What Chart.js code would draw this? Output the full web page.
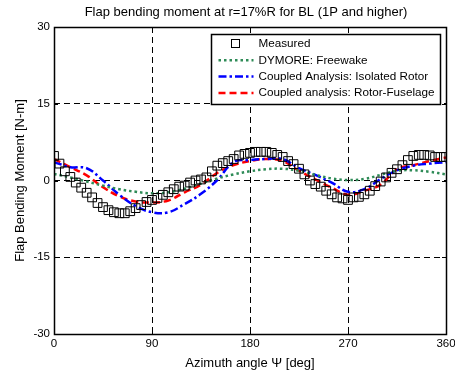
<!DOCTYPE html>
<html>
<head>
<meta charset="utf-8">
<script src="https://cdn.jsdelivr.net/npm/chart.js@4"></script>
<style>
  html, body { margin: 0; padding: 0; background: #fff; }
</style>
</head>
<body>
<canvas id="flapChart" width="455" height="374"></canvas>
<script>
// azimuth angles [deg]
const measuredAngles = [0, 5, 10, 15, 20, 25, 30, 35, 40, 45, 50, 55, 60, 65, 70, 75, 80, 85, 90,
  95, 100, 105, 110, 115, 120, 125, 130, 135, 140, 145, 150, 155, 160, 165, 170, 175, 180,
  185, 190, 195, 200, 205, 210, 215, 220, 225, 230, 235, 240, 245, 250, 255, 260, 265, 270,
  275, 280, 285, 290, 295, 300, 305, 310, 315, 320, 325, 330, 335, 340, 345, 350, 355, 360];
const measured = [4.8, 3.3, 1.8, 0.7, -0.4, -1.4, -2.4, -3.3, -4.4, -5.2, -5.8, -6.2, -6.4, -6.4, -6.0, -5.4, -4.8, -4.2, -3.8,
  -3.4, -2.8, -2.3, -1.7, -1.2, -1.0, -0.4, 0.0, 0.2, 0.6, 1.8, 2.9, 3.4, 3.8, 4.2, 4.9, 5.2, 5.4,
  5.6, 5.6, 5.6, 5.4, 5.0, 4.6, 3.8, 3.2, 2.3, 1.2, 0.0, -0.7, -1.2, -2.0, -2.7, -3.3, -3.5, -3.8,
  -3.3, -3.2, -2.7, -2.0, -1.1, -0.2, 0.6, 1.5, 2.2, 3.0, 4.0, 4.8, 5.0, 5.0, 4.9, 4.6, 4.6, 4.6];

const curveAngles = [0, 15, 30, 45, 60, 75, 90, 105, 120, 135, 150, 165, 180,
  195, 210, 225, 240, 255, 270, 285, 300, 315, 330, 345, 360];
const dymoreFreewake = [1.3, 0.6, -0.2, -1.0, -1.7, -2.2, -2.5, -2.3, -1.6, -0.6, 0.4, 1.2, 1.8,
  2.2, 2.3, 1.9, 1.1, 0.4, 0.1, 0.3, 1.1, 1.9, 2.0, 1.7, 1.2];
const isolatedRotor = [3.6, 2.6, 2.4, 0.0, -2.8, -5.0, -6.2, -6.2, -4.6, -2.6, 0.1, 3.6, 4.0,
  4.2, 4.2, 2.4, 1.1, -0.4, -2.2, -1.7, 0.3, 2.0, 2.9, 3.3, 3.6];
const rotorFuselage = [4.2, 2.6, 1.0, -1.3, -3.1, -4.1, -4.3, -3.9, -2.3, -0.8, 1.5, 3.0, 3.8,
  4.2, 3.8, 1.9, 0.2, -1.4, -2.8, -2.0, -0.8, 2.2, 3.0, 3.8, 4.5];

const xTicks = [0, 90, 180, 270, 360];
const yTicks = [-30, -15, 0, 15, 30];

const chartTitle = 'Flap bending moment at r=17%R for BL (1P and higher)';
const FONT = 'Liberation Sans, Arial, sans-serif';

function pairs(xs, ys) {
  return xs.map((x, i) => ({ x: x, y: ys[i] }));
}

// title over the axes, axes box, inward ticks and the boxed legend (MATLAB style)
const matlabFrame = {
  id: 'matlabFrame',
  afterDatasetsDraw(chart) {
    const ctx = chart.ctx;
    const a = chart.chartArea;
    const xs = chart.scales.x, ys = chart.scales.y;
    ctx.save();
    ctx.setLineDash([]);
    ctx.strokeStyle = '#000';
    ctx.lineWidth = 1;
    ctx.beginPath();
    xTicks.forEach(v => {
      const px = Math.round(xs.getPixelForValue(v)) + 0.5;
      ctx.moveTo(px, a.top); ctx.lineTo(px, a.top + 4);
      ctx.moveTo(px, a.bottom); ctx.lineTo(px, a.bottom - 4);
    });
    yTicks.forEach(v => {
      const py = Math.round(ys.getPixelForValue(v)) + 0.5;
      ctx.moveTo(a.left, py); ctx.lineTo(a.left + 4, py);
      ctx.moveTo(a.right, py); ctx.lineTo(a.right - 4, py);
    });
    ctx.stroke();
    ctx.lineWidth = 1.5;
    ctx.strokeRect(Math.round(a.left) + 0.5, Math.round(a.top) + 0.5,
      Math.round(a.right - a.left), Math.round(a.bottom - a.top));

    // title, centred on the axes
    ctx.fillStyle = '#000';
    ctx.font = '13px ' + FONT;
    ctx.textAlign = 'center';
    ctx.textBaseline = 'middle';
    ctx.fillText(chartTitle, (a.left + a.right) / 2 - 4, a.top - 15);

    // legend
    const bx = Math.round(a.right) - 235 + 0.5, by = Math.round(a.top) + 7 + 0.5;
    const bw = 229, bh = 70;
    ctx.fillStyle = '#fff';
    ctx.fillRect(bx, by, bw, bh);
    ctx.lineWidth = 1.5;
    ctx.strokeRect(bx, by, bw, bh);
    ctx.font = '11.7px ' + FONT;
    ctx.textBaseline = 'middle';
    ctx.textAlign = 'left';
    chart.data.datasets.forEach((ds, i) => {
      const cy = by + 9.5 + i * 16.3;
      const x0 = bx + 7, x1 = bx + 42;
      ctx.save();
      if (ds.showLine === false) {
        ctx.lineWidth = 1;
        ctx.strokeStyle = ds.pointBorderColor;
        ctx.strokeRect(Math.round((x0 + x1) / 2) - 4.5, Math.round(cy) - 4.5, 8, 8);
      } else {
        ctx.strokeStyle = ds.borderColor;
        ctx.lineWidth = ds.borderWidth;
        ctx.setLineDash(ds.borderDash || []);
        ctx.beginPath();
        ctx.moveTo(x0, cy); ctx.lineTo(x1, cy);
        ctx.stroke();
      }
      ctx.restore();
      ctx.fillStyle = '#000';
      ctx.fillText(ds.label, bx + 47, cy);
    });
    ctx.restore();
  }
};

new Chart(document.getElementById('flapChart'), {
  type: 'line',
  data: {
    datasets: [
      {
        label: 'Measured',
        data: pairs(measuredAngles, measured),
        showLine: false,
        pointStyle: 'rect',
        pointRadius: 6.2,
        pointBorderWidth: 1,
        pointBorderColor: '#000',
        pointBackgroundColor: 'rgba(0,0,0,0)',
        borderColor: '#000'
      },
      {
        label: 'DYMORE: Freewake',
        data: pairs(curveAngles, dymoreFreewake),
        borderColor: '#2e8b57',
        borderWidth: 2.5,
        borderDash: [2.5, 3],
        pointRadius: 0,
        tension: 0.4
      },
      {
        label: 'Coupled Analysis: Isolated Rotor',
        data: pairs(curveAngles, isolatedRotor),
        borderColor: '#0000ff',
        borderWidth: 2.5,
        borderDash: [8, 3, 2.5, 3],
        pointRadius: 0,
        tension: 0.4
      },
      {
        label: 'Coupled analysis: Rotor-Fuselage',
        data: pairs(curveAngles, rotorFuselage),
        borderColor: '#ff0000',
        borderWidth: 2.5,
        borderDash: [7, 4],
        pointRadius: 0,
        tension: 0.4
      }
    ]
  },
  options: {
    responsive: false,
    animation: false,
    devicePixelRatio: 1,
    layout: { padding: { left: 0, right: 9, top: 27, bottom: 0 } },
    plugins: {
      legend: { display: false },
      tooltip: { enabled: false },
      title: { display: false }
    },
    scales: {
      x: {
        type: 'linear',
        min: 0,
        max: 360,
        afterBuildTicks: s => { s.ticks = xTicks.map(v => ({ value: v })); },
        afterFit: s => { s.height = 40; s.paddingRight = 0; s.paddingLeft = 0; },
        ticks: { color: '#000', font: { family: FONT, size: 11.5 }, padding: 3, maxRotation: 0 },
        grid: { color: '#000', lineWidth: 1, drawTicks: false },
        border: { display: false, dash: [6, 4] },
        title: {
          display: true,
          text: 'Azimuth angle \u03A8 [deg]',
          color: '#000',
          font: { family: FONT, size: 13 },
          padding: { top: 0, bottom: 3 }
        }
      },
      y: {
        min: -30,
        max: 30,
        afterBuildTicks: s => { s.ticks = yTicks.map(v => ({ value: v })); },
        afterFit: s => { s.width = 54; s.paddingTop = 0; s.paddingBottom = 0; },
        ticks: { color: '#000', font: { family: FONT, size: 11.5 }, padding: 4 },
        grid: { color: '#000', lineWidth: 1, drawTicks: false },
        border: { display: false, dash: [6, 4] },
        title: {
          display: true,
          text: 'Flap Bending Moment [N-m]',
          color: '#000',
          font: { family: FONT, size: 13 },
          padding: { top: 13, bottom: 0 }
        }
      }
    }
  },
  plugins: [matlabFrame]
});
</script>
</body>
</html>
